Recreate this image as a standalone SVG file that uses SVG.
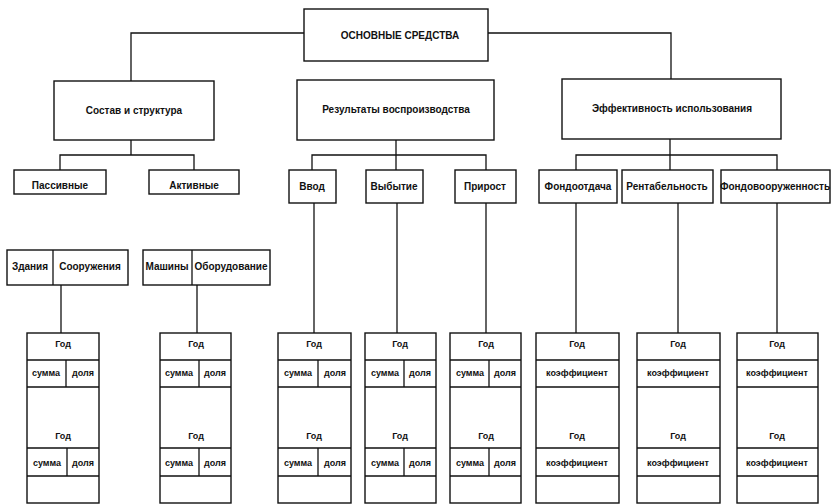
<svg xmlns="http://www.w3.org/2000/svg" width="837" height="504" viewBox="0 0 837 504">
<style>
.b{fill:#fff;stroke:#111;stroke-width:1.4}
.c{fill:none;stroke:#111;stroke-width:1.3}
text{font-family:"Liberation Sans",Arial,sans-serif;font-weight:bold;fill:#111;text-anchor:middle}
.t1{font-size:10px}
.t2{font-size:9px}
</style>
<rect width="837" height="504" fill="#fff"/>
<g id="connectors">
<path class="c" d="M304 33H131V81"/>
<path class="c" d="M488 33H671V79"/>
<path class="c" d="M131 140V155M60 170V155H194V170"/>
<path class="c" d="M396 140V155M312 170V155H486V170M396 155V170"/>
<path class="c" d="M670 139V155M576 170V155H777V170M670 155V170"/>
<path class="c" d="M61 285V333"/>
<path class="c" d="M197 285V333"/>
<path class="c" d="M314 203V333"/>
<path class="c" d="M397 203V333"/>
<path class="c" d="M486 203V333"/>
<path class="c" d="M576 203V333"/>
<path class="c" d="M678 203V333"/>
<path class="c" d="M777 203V333"/>
</g>
<g id="root"><rect class="b" x="304" y="9" width="184" height="52"/><text class="t1" x="400" y="39">ОСНОВНЫЕ СРЕДСТВА</text></g>
<g id="sostav"><rect class="b" x="54" y="81" width="160" height="59"/><text class="t1" x="134" y="114">Состав и структура</text></g>
<g id="rezult"><rect class="b" x="297" y="80" width="197" height="60"/><text class="t1" x="396" y="113">Результаты воспроизводства</text></g>
<g id="effekt"><rect class="b" x="562" y="79" width="219" height="60"/><text class="t1" x="672" y="112">Эффективность использования</text></g>
<g id="passiv"><rect class="b" x="14" y="170" width="92" height="24"/><text class="t1" x="60" y="189">Пассивные</text></g>
<g id="aktiv"><rect class="b" x="149" y="170" width="90" height="24"/><text class="t1" x="194" y="189">Активные</text></g>
<g id="vvod"><rect class="b" x="289" y="170" width="47" height="33"/><text class="t1" x="312" y="190">Ввод</text></g>
<g id="vybytie"><rect class="b" x="366" y="170" width="57" height="33"/><text class="t1" x="394" y="190">Выбытие</text></g>
<g id="prirost"><rect class="b" x="455" y="170" width="61" height="33"/><text class="t1" x="485" y="190">Прирост</text></g>
<g id="fondootdacha"><rect class="b" x="539" y="170" width="78" height="33"/><text class="t1" x="578" y="190">Фондоотдача</text></g>
<g id="rentab"><rect class="b" x="622" y="170" width="91" height="33"/><text class="t1" x="667" y="190">Рентабельность</text></g>
<g id="fondovoor"><rect class="b" x="721" y="170" width="109" height="33"/><text class="t1" x="775" y="190">Фондовооруженность</text></g>
<g id="zdaniya"><rect class="b" x="7" y="250" width="121" height="35"/><path class="c" d="M53 250V285"/><text class="t1" x="30" y="270">Здания</text><text class="t1" x="90" y="270">Сооружения</text></g>
<g id="mashiny"><rect class="b" x="143" y="250" width="127" height="35"/><path class="c" d="M192 250V285"/><text class="t1" x="167" y="270">Машины</text><text class="t1" x="231" y="270">Оборудование</text></g>
<g id="tab1"><rect class="b" x="27" y="333" width="72" height="170"/><path class="c" d="M27 360H99M27 387H99M27 448H99M27 476H99M66 360V387M67 448V476"/><text class="t2" x="63" y="347">Год</text><text class="t2" x="46" y="376">сумма</text><text class="t2" x="83" y="376">доля</text><text class="t2" x="63" y="439">Год</text><text class="t2" x="47" y="466">сумма</text><text class="t2" x="83" y="466">доля</text></g>
<g id="tab2"><rect class="b" x="160" y="333" width="71" height="170"/><path class="c" d="M160 360H231M160 387H231M160 448H231M160 476H231M199 360V387M199 448V476"/><text class="t2" x="196" y="347">Год</text><text class="t2" x="179" y="376">сумма</text><text class="t2" x="215" y="376">доля</text><text class="t2" x="196" y="439">Год</text><text class="t2" x="179" y="466">сумма</text><text class="t2" x="215" y="466">доля</text></g>
<g id="tab3"><rect class="b" x="278" y="333" width="73" height="170"/><path class="c" d="M278 360H351M278 387H351M278 448H351M278 476H351M318 360V387M318 448V476"/><text class="t2" x="314" y="347">Год</text><text class="t2" x="298" y="376">сумма</text><text class="t2" x="335" y="376">доля</text><text class="t2" x="314" y="439">Год</text><text class="t2" x="298" y="466">сумма</text><text class="t2" x="335" y="466">доля</text></g>
<g id="tab4"><rect class="b" x="365" y="333" width="71" height="170"/><path class="c" d="M365 360H436M365 387H436M365 448H436M365 476H436M404 360V387M404 448V476"/><text class="t2" x="400" y="347">Год</text><text class="t2" x="385" y="376">сумма</text><text class="t2" x="420" y="376">доля</text><text class="t2" x="400" y="439">Год</text><text class="t2" x="385" y="466">сумма</text><text class="t2" x="420" y="466">доля</text></g>
<g id="tab5"><rect class="b" x="450" y="333" width="71" height="170"/><path class="c" d="M450 360H521M450 387H521M450 448H521M450 476H521M489 360V387M489 448V476"/><text class="t2" x="486" y="347">Год</text><text class="t2" x="470" y="376">сумма</text><text class="t2" x="505" y="376">доля</text><text class="t2" x="486" y="439">Год</text><text class="t2" x="470" y="466">сумма</text><text class="t2" x="505" y="466">доля</text></g>
<g id="tab6"><rect class="b" x="536" y="333" width="83" height="170"/><path class="c" d="M536 360H619M536 387H619M536 448H619M536 476H619"/><text class="t2" x="577" y="347">Год</text><text class="t2" x="577" y="376">коэффициент</text><text class="t2" x="577" y="439">Год</text><text class="t2" x="577" y="466">коэффициент</text></g>
<g id="tab7"><rect class="b" x="637" y="333" width="83" height="170"/><path class="c" d="M637 360H720M637 387H720M637 448H720M637 476H720"/><text class="t2" x="678" y="347">Год</text><text class="t2" x="678" y="376">коэффициент</text><text class="t2" x="678" y="439">Год</text><text class="t2" x="678" y="466">коэффициент</text></g>
<g id="tab8"><rect class="b" x="737" y="333" width="81" height="170"/><path class="c" d="M737 360H818M737 387H818M737 448H818M737 476H818"/><text class="t2" x="777" y="347">Год</text><text class="t2" x="777" y="376">коэффициент</text><text class="t2" x="777" y="439">Год</text><text class="t2" x="777" y="466">коэффициент</text></g>
</svg>
